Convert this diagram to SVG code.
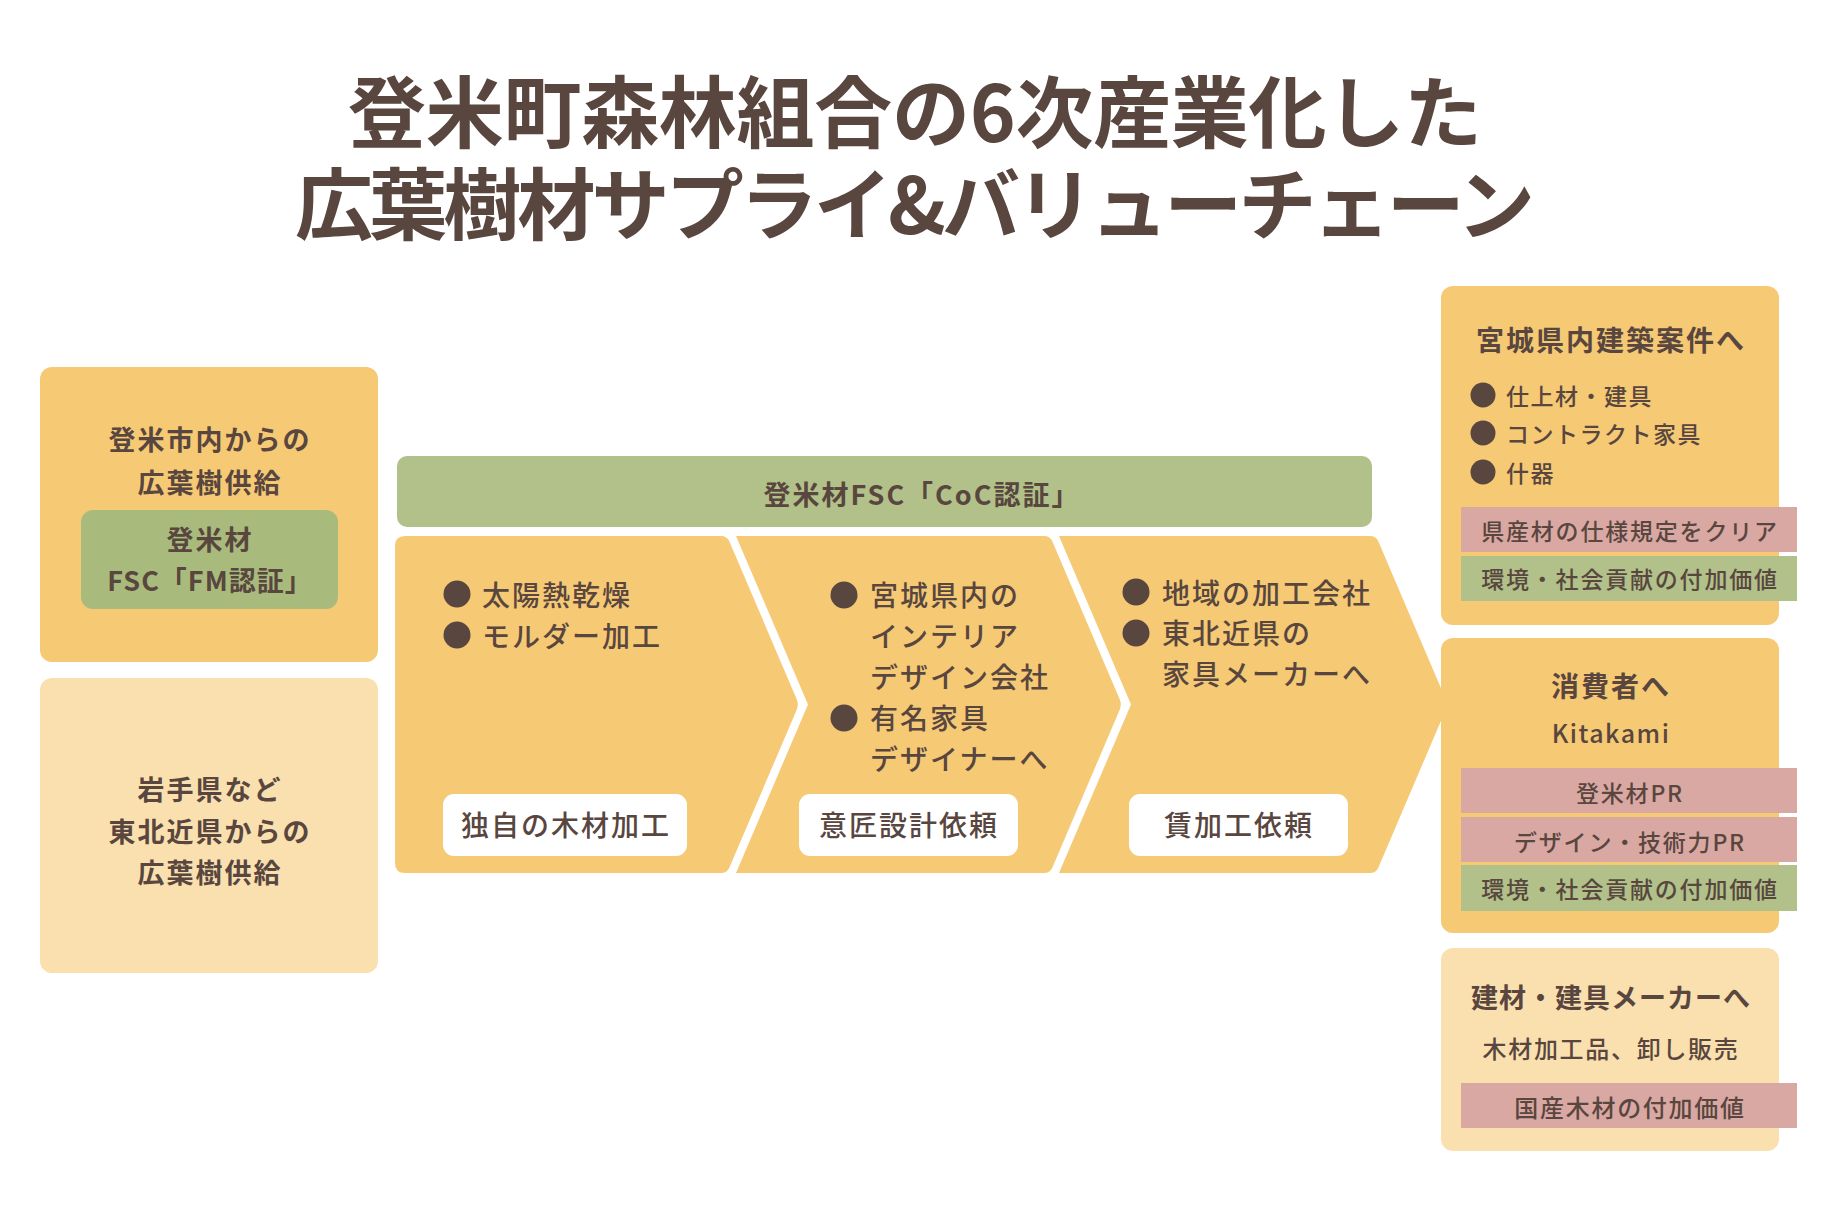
<svg xmlns="http://www.w3.org/2000/svg" width="1826" height="1218" viewBox="0 0 1826 1218">
<style>
text{font-family:"Noto Sans CJK JP","Noto Sans",sans-serif;fill:#58463F}
.title{font-size:78px;font-weight:700;text-anchor:middle}
.hb{font-size:27px;font-weight:700;letter-spacing:2px;text-anchor:middle}
.body{font-size:28px;font-weight:500;letter-spacing:2px}
.lab{font-size:28px;font-weight:500;letter-spacing:2px;text-anchor:middle}
.rh{font-size:28px;font-weight:700;letter-spacing:2px;text-anchor:middle}
.rb{font-size:23px;font-weight:500;letter-spacing:1.5px}
.band{font-size:23px;font-weight:500;letter-spacing:1.8px;text-anchor:middle}
.sub{font-size:24px;font-weight:500;letter-spacing:1.7px;text-anchor:middle}
.or{fill:#F6C975}
.lt{fill:#F9E0AE}
.gr{fill:#B1C189}
.gr2{fill:#A9BB7C}
.pk{fill:#D9A8A3}
.wh{fill:#FFFFFF}
.dot{fill:#58463F}
</style>
<rect width="1826" height="1218" fill="#FFFFFF"/>

<g id="title">
<text class="title" x="915" y="142" textLength="1134" lengthAdjust="spacing">登米町森林組合の6次産業化した</text>
<text class="title" x="915" y="234" textLength="1240" lengthAdjust="spacing">広葉樹材サプライ&amp;バリューチェーン</text>
</g>

<g id="supply-tome">
<rect class="or" x="40" y="367" width="338" height="295" rx="12"/>
<text class="hb" x="210" y="450">登米市内からの</text>
<text class="hb" x="210" y="493">広葉樹供給</text>
<rect class="gr2" x="81" y="510" width="257" height="99" rx="12"/>
<text class="hb" x="210" y="550">登米材</text>
<text class="hb" x="210" y="591" style="letter-spacing:1px">FSC「FM認証」</text>
</g>

<g id="supply-tohoku">
<rect class="lt" x="40" y="678" width="338" height="295" rx="12"/>
<text class="hb" x="210" y="800">岩手県など</text>
<text class="hb" x="210" y="842">東北近県からの</text>
<text class="hb" x="210" y="883">広葉樹供給</text>
</g>

<g id="coc-bar">
<rect class="gr" x="397" y="456" width="975" height="71" rx="10"/>
<text class="hb" x="922" y="505">登米材FSC「CoC認証」</text>
</g>

<g id="step-processing">
<path class="or" d="M405,536 H721 Q727,536 729.4,541.5 L796.6,699 Q799,704.5 796.6,710 L729.4,867.5 Q727,873 721,873 H405 Q395,873 395,863 V546 Q395,536 405,536 Z"/>
<circle class="dot" cx="457" cy="594" r="13.5"/>
<text class="body" x="482" y="606">太陽熱乾燥</text>
<circle class="dot" cx="457" cy="635" r="13.5"/>
<text class="body" x="482" y="647">モルダー加工</text>
<rect class="wh" x="443" y="794" width="244" height="62" rx="11"/>
<text class="lab" x="566" y="836">独自の木材加工</text>
</g>

<g id="step-design">
<path class="or" d="M736,536 H1044 Q1050,536 1052.4,541.5 L1119.6,699 Q1122,704.5 1119.6,710 L1052.4,867.5 Q1050,873 1044,873 H736 L808,704.5 Z"/>
<circle class="dot" cx="844" cy="595" r="13.5"/>
<text class="body" x="870" y="606">宮城県内の</text>
<text class="body" x="870" y="647">インテリア</text>
<text class="body" x="870" y="688">デザイン会社</text>
<circle class="dot" cx="844" cy="718" r="13.5"/>
<text class="body" x="870" y="729">有名家具</text>
<text class="body" x="870" y="770">デザイナーへ</text>
<rect class="wh" x="799" y="794" width="219" height="62" rx="11"/>
<text class="lab" x="909" y="836">意匠設計依頼</text>
</g>

<g id="step-contract">
<path class="or" d="M1059,536 H1370 Q1376,536 1378.4,541.5 L1445.6,699 Q1448,704.5 1445.6,710 L1378.4,867.5 Q1376,873 1370,873 H1059 L1131,704.5 Z"/>
<circle class="dot" cx="1136" cy="592" r="13.5"/>
<text class="body" x="1162" y="604">地域の加工会社</text>
<circle class="dot" cx="1136" cy="633" r="13.5"/>
<text class="body" x="1162" y="644">東北近県の</text>
<text class="body" x="1162" y="685">家具メーカーへ</text>
<rect class="wh" x="1129" y="794" width="219" height="62" rx="11"/>
<text class="lab" x="1239" y="836">賃加工依頼</text>
</g>

<g id="out-miyagi">
<rect class="or" x="1441" y="286" width="338" height="339" rx="12"/>
<text class="rh" x="1611" y="351">宮城県内建築案件へ</text>
<circle class="dot" cx="1483" cy="395" r="12.5"/>
<text class="rb" x="1506" y="405">仕上材・建具</text>
<circle class="dot" cx="1483" cy="433" r="12.5"/>
<text class="rb" x="1506" y="443">コントラクト家具</text>
<circle class="dot" cx="1483" cy="472" r="12.5"/>
<text class="rb" x="1506" y="482">什器</text>
<rect class="pk" x="1461" y="507" width="336" height="45"/>
<text class="band" x="1630" y="540">県産材の仕様規定をクリア</text>
<rect class="gr" x="1461" y="556" width="336" height="45"/>
<text class="band" x="1630" y="588">環境・社会貢献の付加価値</text>
</g>

<g id="out-consumer">
<rect class="or" x="1441" y="638" width="338" height="295" rx="12"/>
<text class="rh" x="1611" y="697">消費者へ</text>
<text class="sub" x="1611" y="743" style="font-size:25px;letter-spacing:1.5px">Kitakami</text>
<rect class="pk" x="1461" y="768" width="336" height="45"/>
<text class="band" x="1630" y="802">登米材PR</text>
<rect class="pk" x="1461" y="817" width="336" height="45"/>
<text class="band" x="1630" y="851">デザイン・技術力PR</text>
<rect class="gr" x="1461" y="865" width="336" height="46"/>
<text class="band" x="1630" y="898">環境・社会貢献の付加価値</text>
</g>

<g id="out-maker">
<rect class="lt" x="1441" y="948" width="338" height="203" rx="12"/>
<text class="rh" x="1611" y="1008" style="font-size:27px;letter-spacing:1px">建材・建具メーカーへ</text>
<text class="sub" x="1611" y="1058">木材加工品、卸し販売</text>
<rect class="pk" x="1461" y="1083" width="336" height="45"/>
<text class="sub" x="1630" y="1117">国産木材の付加価値</text>
</g>

<g id="connectors"></g>
</svg>
